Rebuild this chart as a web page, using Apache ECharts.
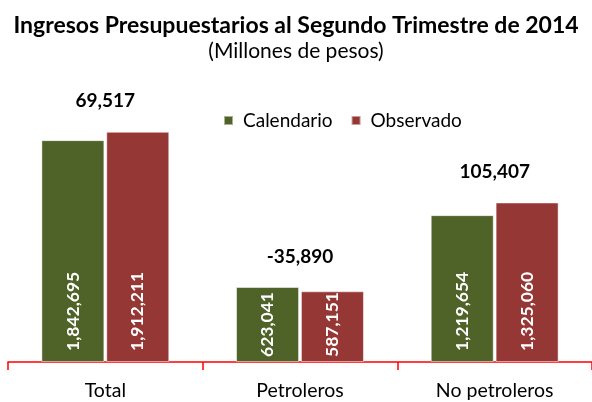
<!DOCTYPE html>
<html>
<head>
<meta charset="utf-8">
<script src="https://cdn.jsdelivr.net/npm/echarts@6/dist/echarts.min.js"></script>
<style>
  html, body { margin: 0; padding: 0; background: #fff; }
  #chart { width: 592px; height: 402px; }
</style>
</head>
<body>
<div id="chart"></div>
<script>
// datos del trimestre (millones de pesos)
const categorias = ['Total', 'Petroleros', 'No petroleros'];
const calendario = [1842695, 623041, 1219654];
const observado = [1912211, 587151, 1325060];
const diferencia = [69517, -35890, 105407];

const fmt = v => v.toLocaleString('en-US');
const fuente = 'Lato, "Open Sans", sans-serif';

const chart = echarts.init(document.getElementById('chart'));

const etiquetaBarra = {
  show: true,
  position: 'insideBottom',
  rotate: 90,
  align: 'left',
  verticalAlign: 'middle',
  distance: 11,
  color: '#fff',
  fontFamily: fuente,
  fontWeight: 'bold',
  fontSize: 17.5,
  formatter: p => fmt(p.value)
};

// barras bajas: la etiqueta se pega más a la base para que quepa
const conEtiqueta = arr => arr.map(v => (v < 1000000 ? { value: v, label: { distance: 5 } } : v));

const option = {
  animation: false,
  title: [
    {
      text: 'Ingresos Presupuestarios al Segundo Trimestre de 2014',
      left: 'center',
      top: 9,
      textStyle: { fontFamily: fuente, fontWeight: 'bold', fontSize: 23, color: '#000' }
    },
    {
      text: '(Millones de pesos)',
      left: 'center',
      top: 36,
      textStyle: { fontFamily: fuente, fontWeight: 'normal', fontSize: 21, color: '#000' }
    }
  ],
  legend: {
    left: 218,
    top: 106,
    itemWidth: 9,
    itemHeight: 9,
    itemGap: 18,
    icon: 'rect',
    textStyle: { fontFamily: fuente, fontSize: 19, color: '#000', padding: [0, 0, 0, 5] },
    data: ['Calendario', 'Observado']
  },
  grid: { left: 8, right: -3, top: 61, bottom: 40 },
  xAxis: {
    type: 'category',
    data: categorias,
    axisLine: { lineStyle: { color: '#ff0000', width: 1.5 } },
    axisTick: { show: true, length: 8, lineStyle: { color: '#ff0000', width: 1.5 } },
    axisLabel: { fontFamily: fuente, fontSize: 19.5, color: '#000', margin: 19 }
  },
  yAxis: {
    type: 'value',
    min: 0,
    max: 2500000,
    show: false,
    splitLine: { show: false }
  },
  series: [
    {
      name: 'Calendario',
      type: 'bar',
      data: conEtiqueta(calendario),
      barWidth: 63,
      barGap: '3%',
      itemStyle: { color: '#4F6228', borderColor: 'rgba(255,255,255,0.5)', borderWidth: 1 },
      label: etiquetaBarra
    },
    {
      name: 'Observado',
      type: 'bar',
      data: conEtiqueta(observado),
      barWidth: 63,
      barGap: '3%',
      itemStyle: { color: '#953735', borderColor: 'rgba(255,255,255,0.5)', borderWidth: 1 },
      label: etiquetaBarra
    },
    {
      // diferencia sobre cada par de barras
      name: 'Diferencia',
      type: 'scatter',
      symbolSize: 0,
      silent: true,
      itemStyle: { opacity: 1 },
      data: diferencia.map((d, i) => ({
        value: [categorias[i], Math.max(calendario[i], observado[i])],
        diff: d
      })),
      label: {
        show: true,
        position: 'top',
        distance: 21,
        color: '#000',
        opacity: 1,
        fontFamily: fuente,
        fontWeight: 'bold',
        fontSize: 19,
        formatter: p => fmt(p.data.diff)
      }
    }
  ]
};

chart.setOption(option);
</script>
</body>
</html>
